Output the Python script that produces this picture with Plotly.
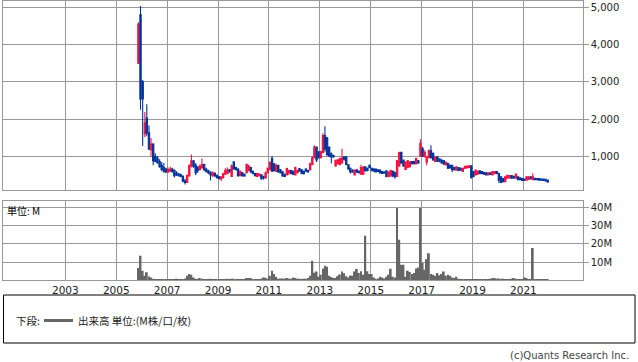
import pandas as pd
import plotly.graph_objects as go

# ---------------- data (monthly bars, starting Nov 2005) ----------------
start_month = "2005-11-01"

opens = [3500,4800,3000,1600,2030,1630,1170,1330,1000,950,860,760,700,660,580,600,660,620,560,520,
         500,470,340,300,480,750,880,760,700,640,700,780,650,610,570,480,540,490,450,400,
         430,520,540,640,460,850,700,660,480,560,520,560,620,700,600,540,460,480,500,460,
         420,560,640,940,800,600,760,640,590,520,500,560,620,600,500,560,670,640,600,660,
         620,640,780,960,1250,1120,960,1100,1560,1500,1250,1070,1020,740,800,780,820,990,990,770,
         680,620,500,640,600,520,520,720,680,760,680,660,660,640,630,590,580,610,460,470,
         600,560,460,740,1110,900,650,700,720,860,860,800,880,1000,1200,990,850,960,1150,1080,
         860,990,930,900,880,770,810,760,760,700,630,700,680,590,680,690,700,745,590,500,
         520,610,590,570,560,500,560,500,540,590,540,450,400,320,410,420,480,460,410,450,
         420,400,390,360,380,450,370,410,400,400,390,390,380,360]
highs = [4600,5035,3050,2190,2400,1830,1490,1350,1080,1010,920,850,820,690,700,720,690,650,600,560,
         540,480,400,510,780,1050,900,820,740,780,940,800,690,640,600,590,580,510,470,470,
         560,680,700,660,780,860,720,680,620,580,540,810,770,720,620,560,560,550,510,480,
         590,700,860,1010,810,800,770,660,600,540,690,640,640,620,720,640,680,650,620,680,
         640,830,1000,1300,1260,1130,1150,1620,1810,1520,1260,1100,1040,910,930,960,1200,1000,1000,790,
         700,650,640,650,620,770,740,730,700,780,700,680,670,650,640,600,600,620,600,640,
         620,590,900,1120,1120,910,860,900,860,870,880,960,900,1460,1260,1160,1000,1180,1300,1100,
         1000,1000,950,920,900,860,820,780,770,720,730,710,700,690,740,750,750,750,600,640,
         620,620,600,580,570,570,570,600,600,600,560,460,420,460,500,500,490,470,545,460,
         430,410,400,460,460,460,545,420,410,410,400,395,390,370]
lows = [3480,2250,1280,1515,1540,1170,990,760,840,800,690,600,560,550,560,580,560,430,470,460,
        440,300,240,290,450,700,690,500,550,620,660,600,560,520,350,450,450,400,380,340,
        400,500,520,560,450,640,620,450,470,450,450,540,600,560,520,460,450,460,370,380,
        400,540,620,580,590,580,560,540,450,450,490,500,520,500,490,540,590,520,510,590,
        560,620,760,940,850,940,940,1080,1120,1000,990,810,960,720,780,760,800,880,760,640,
        540,560,490,560,540,500,500,590,600,680,600,590,570,580,540,530,530,440,440,450,
        440,400,450,720,800,720,630,680,700,780,780,780,800,980,980,970,760,950,940,880,
        840,850,840,800,770,760,660,670,580,620,620,600,610,580,660,680,690,400,440,490,
        500,520,520,510,490,490,500,490,520,520,280,280,300,310,400,410,400,400,400,360,
        360,340,340,350,370,380,360,360,360,350,350,340,330,290]
closes = [4550,2540,2540,1900,1630,1200,1330,880,860,830,720,650,600,580,640,660,590,480,500,480,
          460,330,300,480,750,880,720,560,620,740,780,650,600,560,500,560,470,430,400,440,
          530,620,640,580,740,660,640,480,600,480,470,780,740,580,540,480,540,520,400,420,
          560,680,840,600,620,760,580,560,470,460,670,620,540,520,700,620,600,540,530,600,
          580,800,960,1250,900,960,1120,1560,1200,1050,1000,980,990,890,900,940,950,920,780,660,
          580,580,630,570,560,700,700,610,620,700,620,600,580,590,550,540,550,460,580,620,
          470,450,880,1100,820,740,850,880,850,800,800,940,820,1350,1000,1100,980,1150,960,900,
          980,870,860,820,790,840,680,690,640,640,720,620,630,680,730,740,745,430,460,630,
          600,540,530,520,500,560,510,590,590,540,360,300,320,450,490,480,410,420,520,370,
          370,350,350,450,450,400,450,370,370,360,360,350,340,310]
volume_m = [6.7,13.5,5.3,2.5,4.4,2.1,1.6,0.9,0.5,0.4,0.4,0.5,0.4,0.3,0.6,0.5,0.4,0.5,0.8,0.5,
            0.3,0.4,1.0,2.5,3.5,3.0,1.6,0.8,0.5,1.2,0.9,0.4,0.3,0.3,0.9,0.5,0.3,0.2,0.3,0.3,
            0.4,0.6,0.8,0.7,0.9,0.8,0.5,0.4,0.3,0.4,0.5,1.3,1.3,1.2,0.6,0.4,0.5,0.4,0.8,1.6,
            1.4,0.9,2.5,5.3,3.5,2.0,0.8,1.0,1.0,0.8,1.2,1.0,0.9,1.5,1.3,0.9,0.8,0.7,0.8,0.9,
            1.2,2.5,10.7,4.2,4.8,2.0,3.0,6.5,8.0,7.5,2.5,1.8,1.2,1.2,2.2,3.2,4.8,3.9,2.2,1.6,
            2.6,2.5,4.8,6.2,4.0,5.0,3.0,24.5,5.0,3.5,3.4,1.5,0.8,1.0,2.0,1.5,1.0,2.0,3.0,6.3,
            2.0,1.5,39.7,22.3,8.5,8.5,2.0,5.3,4.5,3.5,4.0,6.5,7.0,39.8,9.5,5.8,11.6,14.9,3.5,3.0,
            2.5,4.0,2.8,3.5,4.8,2.5,3.0,2.5,1.5,1.2,2.0,0.8,0.6,0.5,0.4,0.4,0.6,0.5,0.6,0.5,
            0.4,0.5,0.4,0.3,0.3,0.4,0.8,1.1,1.2,0.9,1.0,0.9,0.8,0.7,0.6,0.5,0.9,1.3,0.8,0.4,
            0.3,0.3,1.6,1.2,0.4,0.5,17.7,0.3,0.3,0.3,0.2,0.2,0.2,0.2]

price_ticks = [1000, 2000, 3000, 4000, 5000]
volume_ticks = [10, 20, 30, 40]
volume_tick_text = ["10M", "20M", "30M", "40M"]
year_ticks = [2003, 2005, 2007, 2009, 2011, 2013, 2015, 2017, 2019, 2021]

dates = pd.date_range(start_month, periods=len(closes), freq="MS") + pd.Timedelta(days=14)

# ---------------- layout helpers ----------------
W, H = 638, 362
def fx(p): return p / W
def fy(p): return 1 - p / H

RED = "#F5103F"
BLUE = "#003399"
GRID = "#999999"
TXT = "#222222"
FONT = "DejaVu Sans"
CJK = "Noto Sans CJK JP"

x_range = ["2000-07-20", "2023-05-02"]
year_dates = [f"{y}-01-01" for y in year_ticks]

fig = go.Figure()
fig.add_trace(go.Candlestick(
    x=dates, open=opens, high=highs, low=lows, close=closes,
    increasing=dict(line=dict(color=RED, width=1.1), fillcolor=RED),
    decreasing=dict(line=dict(color=BLUE, width=1.1), fillcolor=BLUE),
    whiskerwidth=0, xaxis="x", yaxis="y", showlegend=False, hoverinfo="skip"))
fig.add_trace(go.Bar(
    x=dates, y=volume_m, marker=dict(color="#666666", line=dict(width=0)),
    xaxis="x2", yaxis="y2", showlegend=False, hoverinfo="skip"))

axis_common = dict(showline=True, mirror=True, linecolor=GRID, linewidth=1,
                   showgrid=True, gridcolor=GRID, gridwidth=1, zeroline=False)

fig.update_layout(
    width=W, height=H, margin=dict(l=0, r=0, t=0, b=0),
    paper_bgcolor="white", plot_bgcolor="white",
    boxgap=0.05, bargap=0.05,
    font=dict(family=FONT, size=10, color=TXT),
    xaxis=dict(domain=[fx(3), fx(582.7)], anchor="y", type="date", range=x_range,
               tickvals=year_dates, ticktext=[str(y) for y in year_ticks],
               showticklabels=False, ticks="", rangeslider=dict(visible=False),
               automargin=False, **axis_common),
    yaxis=dict(domain=[fy(190.3), fy(0.5)], anchor="x", side="right",
               range=[87, 5185], tickvals=price_ticks, tickformat=",",
               ticks="outside", ticklen=5, tickcolor=GRID,
               tickfont=dict(family=FONT, size=10, color=TXT),
               automargin=False, **axis_common),
    xaxis2=dict(domain=[fx(3), fx(582.7)], anchor="y2", type="date", range=x_range,
                matches="x",
                tickvals=year_dates, ticktext=[str(y) for y in year_ticks],
                ticks="", tickfont=dict(family=FONT, size=10.5, color=TXT),
                automargin=False, **axis_common),
    yaxis2=dict(domain=[fy(280.3), fy(201)], anchor="x2", side="right",
                range=[0, 43.6], tickvals=volume_ticks, ticktext=volume_tick_text,
                ticks="outside", ticklen=5, tickcolor=GRID,
                tickfont=dict(family=FONT, size=10, color=TXT),
                automargin=False, **axis_common),
)

# legend box and contents
fig.add_shape(type="rect", xref="paper", yref="paper",
              x0=fx(3.5), x1=fx(635), y0=fy(343), y1=fy(295),
              line=dict(color="#000000", width=1), fillcolor="rgba(0,0,0,0)")
fig.add_shape(type="line", xref="paper", yref="paper",
              x0=fx(44), x1=fx(73), y0=fy(320.5), y1=fy(320.5),
              line=dict(color="#666666", width=3))

fig.add_annotation(xref="paper", yref="paper", x=fx(14), y=fy(320.5),
                   text="下段:", showarrow=False, xanchor="left", yanchor="middle",
                   font=dict(family=CJK, size=10.5, color=TXT))
fig.add_annotation(xref="paper", yref="paper", x=fx(76), y=fy(320.5),
                   text="出来高 単位:(M株/口/枚)", showarrow=False, xanchor="left",
                   yanchor="middle", font=dict(family=CJK, size=10.5, color=TXT))
fig.add_annotation(xref="paper", yref="paper", x=fx(5), y=fy(210),
                   text="単位: M", showarrow=False, xanchor="left", yanchor="middle",
                   font=dict(family=CJK, size=10, color="#000000"))
fig.add_annotation(xref="paper", yref="paper", x=fx(631), y=fy(355),
                   text="(c)Quants Research Inc.", showarrow=False, xanchor="right",
                   yanchor="middle", font=dict(family=FONT, size=10, color="#444444"))

fig.write_html("out.html")
